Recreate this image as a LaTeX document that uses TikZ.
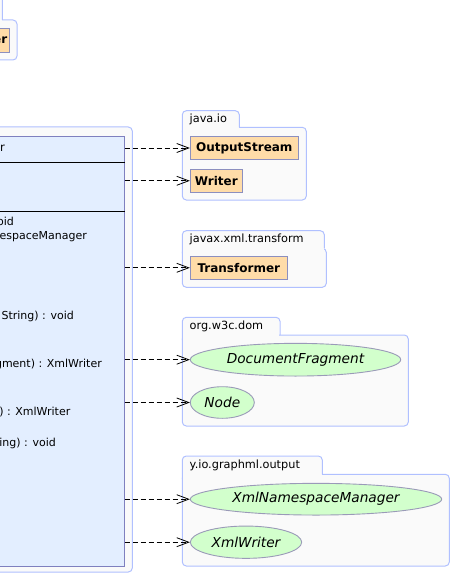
\documentclass[tikz,border=0pt]{standalone}
\usepackage{fontspec}
\setmainfont{DejaVu Sans}
\usetikzlibrary{shapes.geometric,arrows.meta}
\definecolor{pkgdraw}{HTML}{B0C0FF}
\definecolor{pkgfill}{HTML}{FAFAFA}
\definecolor{clsfill}{HTML}{E3EEFF}
\definecolor{clsdraw}{HTML}{7F80BF}
\definecolor{ifcfill}{HTML}{FFDCA8}
\definecolor{ifcdraw}{HTML}{8C8FBF}
\definecolor{elfill}{HTML}{D2FFCC}
\definecolor{eldraw}{HTML}{9A9AB8}
% #1 left, #2 tab top, #3 tab right, #4 tab bottom, #5 body right, #6 body bottom
\newcommand\pkgshape[6]{%
  \draw[pkgline,fill=pkgfill,rounded corners=4pt] (#1,#4) rectangle (#5,#6);
  \fill[pkgfill] (#1+0.6,#2+0.6) rectangle (#3-0.6,#4+4.5);
  \draw[pkgline,rounded corners=4pt] (#1,#4+5) -- (#1,#2) -- (#3,#2) -- (#3,#4);
}
\begin{document}
\begin{tikzpicture}[x=1pt,y=-1pt,
  pkgline/.style={draw=pkgdraw,line width=1pt},
  pkglabel/.style={anchor=west,inner sep=0pt,font=\fontsize{11.3}{13}\selectfont},
  classbox/.style={rectangle,draw=clsdraw,fill=clsfill,line width=1pt,inner sep=0pt},
  sepline/.style={draw=black,line width=0.9pt},
  member/.style={anchor=east,inner sep=0pt,font=\fontsize{11}{13}\selectfont},
  ifcrect/.style={rectangle,draw=ifcdraw,fill=ifcfill,line width=0.9pt,inner sep=0pt,font=\fontsize{12}{14}\selectfont\bfseries},
  ifcell/.style={ellipse,draw=eldraw,fill=elfill,line width=0.9pt,inner sep=0pt,font=\fontsize{13.7}{16}\selectfont\itshape},
  dep/.style={draw=black,line width=0.8pt,dash pattern=on 5pt off 3pt,-{Straight Barb[length=12pt,width=9pt,line width=0.8pt]}}
]
\useasboundingbox (0,0) rectangle (452,577);
\clip (0,0) rectangle (452,577);

% top-left package (clipped)
\pkgshape{-120}{-30}{2.3}{20}{17}{60}
\node[ifcrect,text width=30pt,align=right,inner xsep=2pt,minimum height=24pt,anchor=east] (tl) at (9.7,40) {er};

% group around class
\draw[pkgline,fill=pkgfill,rounded corners=4pt] (-200,127) rectangle (132.3,572);

% class box
\node[classbox,minimum width=330pt,minimum height=430pt,anchor=north east] (cls) at (124.5,136) {};
\draw[sepline] (cls.west |- 0,162) -- (cls.east |- 0,162);
\draw[sepline] (cls.west |- 0,211) -- (cls.east |- 0,211);
\node[member,font=\fontsize{11.5}{13}\selectfont] (cname) at (5,148.5) {r};
\node[member] (m1) at (14,221) {oid};
\node[member] (m2) at (87,237) {espaceManager};
\node[member] (m3) at (74,316.5) {String) : void};
\node[member] (m4) at (102,364) {gment) : XmlWriter};
\node[member] (m5) at (70.5,412) {) : XmlWriter};
\node[member] (m6) at (56,443) {ing) : void};

% java.io
\pkgshape{182.3}{110.7}{239.3}{127.3}{306.3}{200}
\node[pkglabel] (p1) at (189.5,119.3) {java.io};
\node[ifcrect,minimum width=108pt,minimum height=22.6pt] (os) at (244.3,148) {OutputStream};
\node[ifcrect,minimum width=52pt,minimum height=23pt] (wr) at (216.3,180.8) {Writer};

% javax.xml.transform
\pkgshape{182.3}{230.7}{324.3}{248.3}{326.3}{287.3}
\node[pkglabel] (p2) at (189.5,239.5) {javax.xml.transform};
\node[ifcrect,minimum width=97pt,minimum height=23pt] (tr) at (238.8,267.8) {Transformer};

% org.w3c.dom
\pkgshape{182.3}{317.3}{280}{335}{408.3}{426}
\node[pkglabel] (p3) at (189.5,326.2) {org.w3c.dom};
\node[ifcell,minimum width=210.4pt,minimum height=32.7pt] (df) at (295.5,359.7) {DocumentFragment};
\node[ifcell,minimum width=64pt,minimum height=31.6pt] (nd) at (222.3,402.5) {Node};

% y.io.graphml.output
\pkgshape{182.3}{456}{322.3}{474.3}{449.3}{566}
\node[pkglabel] (p4) at (189.5,465.2) {y.io.graphml.output};
\node[ifcell,minimum width=251.4pt,minimum height=31.7pt] (nm) at (316,499.2) {XmlNamespaceManager};
\node[ifcell,minimum width=111.4pt,minimum height=32.3pt] (xw) at (246,542.2) {XmlWriter};

% dependencies
\draw[dep] (cls.east |- os.west) -- (os.west);
\draw[dep] (cls.east |- wr.west) -- (wr.west);
\draw[dep] (cls.east |- tr.west) -- (tr.west);
\draw[dep] (cls.east |- df.west) -- (df.west);
\draw[dep] (cls.east |- nd.west) -- (nd.west);
\draw[dep] (cls.east |- nm.west) -- (nm.west);
\draw[dep] (cls.east |- xw.west) -- (xw.west);
\end{tikzpicture}
\end{document}
